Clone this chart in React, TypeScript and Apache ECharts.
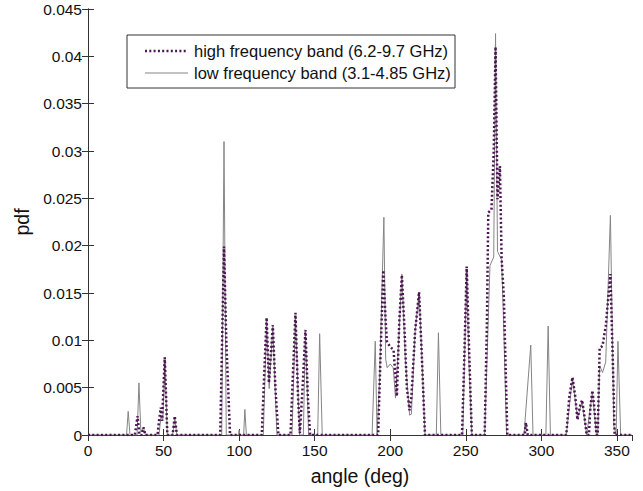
import React, { useEffect, useRef } from "react";
import * as echarts from "echarts";

const xMax = 360;
const xStep = 50;
const yMax = 0.045;
const yStep = 0.005;

const highBand: [number, number][] = [
  [0, 0], [31, 0], [32.8, 0.002], [34, 0], [35.5, 0], [36.7, 0.0008], [38, 0],
  [46, 0], [47, 0.0015], [48.2, 0.0029], [49, 0.0015], [50.8, 0.0082], [52.5, 0],
  [56, 0], [57.4, 0.002], [58.8, 0],
  [87.5, 0], [89, 0.012], [90, 0.0199], [91.5, 0.01], [94, 0],
  [115, 0], [116.5, 0.006], [118.2, 0.0124], [119.7, 0.0055], [122.3, 0.0116], [124, 0.005], [126, 0],
  [134, 0], [135.5, 0.006], [137.3, 0.0129], [139, 0.004], [140.2, 0.0002], [142, 0.005],
  [143.9, 0.0111], [145.5, 0.004], [147, 0],
  [192, 0], [193.5, 0.008], [195.4, 0.0174], [197, 0.012], [197.8, 0.0099], [200, 0.0093],
  [202.2, 0.009], [204.4, 0.0041], [206, 0.012], [207.7, 0.0169], [209.5, 0.011], [211, 0.005],
  [212.8, 0.0026], [214, 0.004], [216.5, 0.011], [219.1, 0.0151], [221, 0.008], [223, 0],
  [247.5, 0], [249, 0.008], [250.6, 0.0178], [252, 0.01], [254, 0],
  [262.5, 0], [264, 0.012], [264.9, 0.0235], [267, 0.0238], [268.5, 0.03], [269.7, 0.041],
  [271, 0.0249], [272.6, 0.0284], [273.7, 0.0187], [275.2, 0.0146], [277.5, 0],
  [289, 0], [289.8, 0.0013], [291, 0],
  [316.5, 0], [318.5, 0.004], [320.6, 0.0061], [322.5, 0.004], [323.9, 0.0016], [325.5, 0.003],
  [327, 0.0037], [328.5, 0.002], [330, 0], [331.5, 0], [332.5, 0.003], [333.8, 0.0047],
  [335, 0.003], [336.5, 0], [337.3, 0], [338.6, 0.0092], [340.5, 0.0094], [342.6, 0.0115],
  [345.7, 0.017], [347.4, 0.0073], [348.5, 0], [360, 0],
];

const lowBand: [number, number][] = [
  [0, 0], [25.5, 0], [26.6, 0.0025], [27.8, 0], [32.5, 0], [33.7, 0.0055], [35, 0.0003],
  [36.7, 0.0008], [38, 0], [47, 0], [48.3, 0.002], [49.5, 0.0015], [50.8, 0.0078], [52.5, 0],
  [56, 0], [57.4, 0.0018], [58.8, 0],
  [88.5, 0], [90, 0.031], [91.5, 0], [99.5, 0], [100, 0.0005], [100.5, 0],
  [103, 0], [103.8, 0.0027], [104.8, 0],
  [116, 0], [118.2, 0.012], [119.9, 0.0049], [122.3, 0.0115], [125, 0],
  [135, 0], [137.3, 0.0125], [140, 0], [142.5, 0], [143.9, 0.011], [146, 0],
  [152, 0], [153.3, 0.0107], [155, 0],
  [188, 0], [190.1, 0.0099], [191.3, 0], [193, 0.006], [195.8, 0.023], [197, 0.008],
  [198, 0.0071], [200, 0.0075], [202, 0.0071], [203.5, 0.0039], [205.5, 0.0096],
  [207.7, 0.017], [210, 0.008], [212.8, 0.0021], [214, 0.0022], [216.5, 0.011],
  [219.1, 0.015], [221, 0.008], [223, 0],
  [230.5, 0], [231.9, 0.0108], [233.5, 0],
  [248, 0], [250.6, 0.0175], [252, 0.008], [254, 0],
  [262.5, 0], [266, 0.0179], [268.5, 0.0188], [269.7, 0.0424], [271, 0.0194],
  [273.7, 0.0185], [275, 0.012], [277, 0],
  [288.5, 0], [293, 0.0095], [294.5, 0], [303, 0], [304.5, 0.0115], [306, 0],
  [316.5, 0], [320.6, 0.006], [323.9, 0.0018], [327, 0.0035], [330, 0],
  [332.5, 0.003], [333.8, 0.0045], [336.5, 0], [337.3, 0], [338.6, 0.0073],
  [340.5, 0.0066], [342.6, 0.0077], [345.7, 0.0232], [348, 0.001], [349.5, 0],
  [350.7, 0.0099], [352.5, 0], [360, 0],
];

const highName = "high frequency band (6.2-9.7 GHz)";
const lowName = "low frequency band (3.1-4.85 GHz)";

const HIGH_COLOR = "#4a1550";
const LOW_COLOR = "#858585";
const HIGH_DASH = [2, 2.3];

export default function App() {
  const ref = useRef<HTMLDivElement>(null);
  useEffect(() => {
    if (!ref.current) return;
    const chart = echarts.init(ref.current, null, { renderer: "svg" });
    const font = "Liberation Sans, Arial, sans-serif";
    const axisLine = { show: true, lineStyle: { color: "#333", width: 1 } };
    const tickIn = { show: true, inside: true, length: 6, lineStyle: { color: "#333" } };
    chart.setOption({
      animation: false,
      backgroundColor: "#fff",
      grid: { left: 88, right: 11, top: 9, bottom: 53 },
      xAxis: [
        {
          type: "value",
          min: 0,
          max: xMax,
          interval: xStep,
          axisLine,
          axisTick: tickIn,
          splitLine: { show: false },
          axisLabel: {
            fontFamily: font,
            fontSize: 15.5,
            color: "#111",
            margin: 7,
            showMaxLabel: false,
            formatter: (v: number) => (v >= xMax ? "" : String(v)),
          },
          name: "angle (deg)",
          nameLocation: "middle",
          nameGap: 31,
          nameTextStyle: { fontFamily: font, fontSize: 19.5, color: "#111" },
        },
        {
          type: "value",
          position: "top",
          min: 0,
          max: xMax,
          interval: xStep,
          axisLine,
          axisTick: tickIn,
          splitLine: { show: false },
          axisLabel: { show: false },
        },
      ],
      yAxis: [
        {
          type: "value",
          min: 0,
          max: yMax,
          interval: yStep,
          axisLine,
          axisTick: tickIn,
          splitLine: { show: false },
          axisLabel: {
            fontFamily: font,
            fontSize: 15.5,
            color: "#111",
            margin: 6,
            formatter: (v: number) => String(+v.toFixed(3)),
          },
          name: "pdf",
          nameLocation: "middle",
          nameGap: 56,
          nameRotate: 90,
          nameTextStyle: { fontFamily: font, fontSize: 19.5, color: "#111" },
        },
        {
          type: "value",
          position: "right",
          min: 0,
          max: yMax,
          interval: yStep,
          axisLine,
          axisTick: tickIn,
          splitLine: { show: false },
          axisLabel: { show: false },
        },
      ],
      graphic: [
        {
          type: "group",
          z: 100,
          children: [
            {
              type: "rect",
              shape: { x: 127, y: 35, width: 328, height: 53 },
              style: { fill: "#fff", stroke: "#333", lineWidth: 1 },
            },
            {
              type: "line",
              shape: { x1: 145, y1: 51, x2: 188, y2: 51 },
              style: { stroke: HIGH_COLOR, lineWidth: 2.5, lineDash: HIGH_DASH },
            },
            {
              type: "text",
              x: 194,
              y: 51,
              style: {
                text: highName,
                fontFamily: font,
                fontSize: 16.5,
                fill: "#111",
                verticalAlign: "middle",
              },
            },
            {
              type: "line",
              shape: { x1: 145, y1: 73, x2: 188, y2: 73 },
              style: { stroke: LOW_COLOR, lineWidth: 1 },
            },
            {
              type: "text",
              x: 194,
              y: 73,
              style: {
                text: lowName,
                fontFamily: font,
                fontSize: 16.5,
                fill: "#111",
                verticalAlign: "middle",
              },
            },
          ],
        },
      ],
      series: [
        {
          name: lowName,
          type: "line",
          data: lowBand,
          symbol: "none",
          lineStyle: { color: LOW_COLOR, width: 1 },
          itemStyle: { color: LOW_COLOR },
          z: 2,
        },
        {
          name: highName,
          type: "line",
          data: highBand,
          symbol: "none",
          lineStyle: { color: HIGH_COLOR, width: 2.5, type: HIGH_DASH },
          itemStyle: { color: HIGH_COLOR },
          z: 3,
        },
      ],
    });
    return () => chart.dispose();
  }, []);
  return <div ref={ref} style={{ width: 643, height: 491, position: "absolute", left: 0, top: 0 }} />;
}
